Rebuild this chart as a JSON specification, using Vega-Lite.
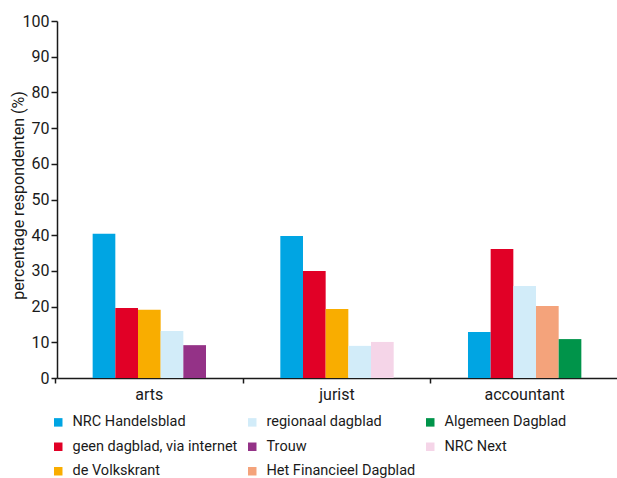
{
  "$schema": "https://vega.github.io/schema/vega-lite/v6.json",
  "width": 560,
  "height": 357,
  "autosize": {"type": "none"},
  "padding": {"left": 57, "top": 21, "right": 0, "bottom": 100},
  "config": {
    "view": {"stroke": null},
    "font": "Roboto"
  },
  "data": {
    "values": [
      {"beroep": "arts", "krant": "NRC Handelsblad", "pct": 40.4},
      {"beroep": "arts", "krant": "geen dagblad, via internet", "pct": 19.6},
      {"beroep": "arts", "krant": "de Volkskrant", "pct": 19.1},
      {"beroep": "arts", "krant": "regionaal dagblad", "pct": 13.2},
      {"beroep": "arts", "krant": "Trouw", "pct": 9.2},
      {"beroep": "jurist", "krant": "NRC Handelsblad", "pct": 39.8},
      {"beroep": "jurist", "krant": "geen dagblad, via internet", "pct": 30.0},
      {"beroep": "jurist", "krant": "de Volkskrant", "pct": 19.3},
      {"beroep": "jurist", "krant": "regionaal dagblad", "pct": 9.0},
      {"beroep": "jurist", "krant": "NRC Next", "pct": 10.1},
      {"beroep": "accountant", "krant": "NRC Handelsblad", "pct": 12.9},
      {"beroep": "accountant", "krant": "geen dagblad, via internet", "pct": 36.1},
      {"beroep": "accountant", "krant": "regionaal dagblad", "pct": 25.8},
      {"beroep": "accountant", "krant": "Het Financieel Dagblad", "pct": 20.2},
      {"beroep": "accountant", "krant": "Algemeen Dagblad", "pct": 10.9}
    ]
  },
  "transform": [
    {"window": [{"op": "row_number", "as": "plek"}], "groupby": ["beroep"]}
  ],
  "mark": {"type": "bar"},
  "encoding": {
    "x": {
      "field": "beroep",
      "type": "nominal",
      "sort": ["arts", "jurist", "accountant"],
      "scale": {"paddingInner": 0.396, "paddingOuter": 0.19},
      "axis": {
        "title": null,
        "labelAngle": 0,
        "bandPosition": -0.328,
        "labelFontSize": 16,
        "labelColor": "#1a1a1a",
        "labelPadding": 3,
        "tickSize": 5,
        "tickColor": "#1a1a1a",
        "tickWidth": 1.5,
        "domainColor": "#1a1a1a",
        "domainWidth": 1.5
      }
    },
    "xOffset": {
      "field": "plek",
      "type": "ordinal",
      "scale": {"paddingInner": 0, "paddingOuter": 0}
    },
    "y": {
      "field": "pct",
      "type": "quantitative",
      "scale": {"domain": [0, 100]},
      "axis": {
        "title": "percentage respondenten (%)",
        "titleFontSize": 16,
        "titleFontWeight": "normal",
        "titleColor": "#1a1a1a",
        "titleX": -39,
        "titleY": 174,
        "titleBaseline": "middle",
        "values": [0, 10, 20, 30, 40, 50, 60, 70, 80, 90, 100],
        "grid": false,
        "labelFontSize": 16,
        "labelColor": "#1a1a1a",
        "labelPadding": 2,
        "tickSize": 6,
        "tickColor": "#1a1a1a",
        "tickWidth": 1.5,
        "domainColor": "#1a1a1a",
        "domainWidth": 1.5
      }
    },
    "color": {
      "field": "krant",
      "type": "nominal",
      "scale": {
        "domain": ["NRC Handelsblad", "regionaal dagblad", "Algemeen Dagblad", "geen dagblad, via internet", "Trouw", "NRC Next", "de Volkskrant", "Het Financieel Dagblad"],
        "range": ["#00a5e3", "#d2ecf9", "#00944a", "#e10026", "#943287", "#f5d5e8", "#f9ad00", "#f4a37b"]
      },
      "legend": {
        "title": null,
        "orient": "none",
        "legendX": -6,
        "legendY": 394,
        "direction": "horizontal",
        "columns": 3,
        "symbolType": "square",
        "symbolSize": 72,
        "symbolStrokeWidth": 0,
        "labelFontSize": 14.5,
        "labelColor": "#1a1a1a",
        "labelOffset": 7,
        "rowPadding": 9.5,
        "columnPadding": 7,
        "labelLimit": 300
      }
    }
  }
}
